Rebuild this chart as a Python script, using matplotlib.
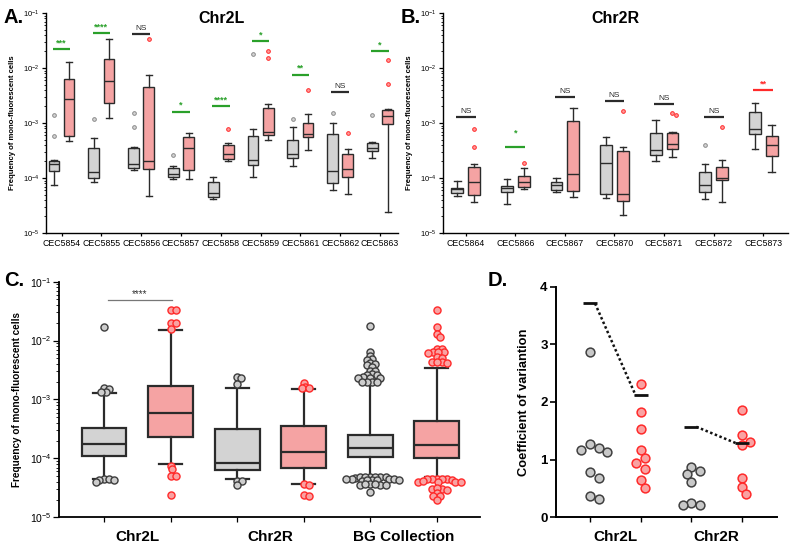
import matplotlib
matplotlib.use("Agg")
import matplotlib.pyplot as plt
import numpy as np

plt.rcParams['font.family'] = ['Liberation Sans', 'DejaVu Sans']
plt.rcParams['mathtext.fontset'] = 'custom'
plt.rcParams['mathtext.rm'] = 'Liberation Sans'
plt.rcParams['mathtext.default'] = 'regular'

GRAY = '#d3d3d3'
PINK = '#f5a3a3'
EDGE = '#2b2b2b'
GREEN = '#2aa02a'
RED = '#ff2a2a'

# ---------------- Panel A data (Chr2L strains) ----------------
cats_a = ['CEC5854', 'CEC5855', 'CEC5856', 'CEC5857', 'CEC5858',
          'CEC5859', 'CEC5861', 'CEC5862', 'CEC5863']
a_gray_lo = [7.6e-5, 8.3e-5, 1.4e-4, 9.7e-5, 4.1e-5, 1.05e-4, 1.65e-4, 6.0e-5, 2.3e-4]
a_gray_q1 = [1.32e-4, 1.0e-4, 1.5e-4, 1.03e-4, 4.5e-5, 1.75e-4, 2.3e-4, 8.1e-5, 3.1e-4]
a_gray_med = [1.8e-4, 1.29e-4, 1.8e-4, 1.2e-4, 5.3e-5, 2.1e-4, 2.7e-4, 1.33e-4, 3.5e-4]
a_gray_q3 = [2.0e-4, 3.5e-4, 3.5e-4, 1.55e-4, 8.3e-5, 5.9e-4, 4.9e-4, 6.2e-4, 4.4e-4]
a_gray_hi = [2.1e-4, 5.4e-4, 3.6e-4, 1.65e-4, 1.05e-4, 7.7e-4, 8.5e-4, 1.0e-3, 4.6e-4]
a_gray_fl = [[1.38e-3, 5.7e-4], [1.2e-3], [1.55e-3, 8.6e-4], [2.6e-4], [],
             [1.76e-2], [1.2e-3], [1.55e-3], [1.38e-3]]
a_pink_lo = [4.7e-4, 1.25e-3, 4.7e-5, 9.4e-5, 2.0e-4, 5.0e-4, 3.2e-4, 5.1e-5, 2.45e-5]
a_pink_q1 = [5.7e-4, 2.3e-3, 1.43e-4, 1.4e-4, 2.2e-4, 6.0e-4, 5.6e-4, 1.05e-4, 9.7e-4]
a_pink_med = [2.7e-3, 5.9e-3, 2.0e-4, 3.5e-4, 2.7e-4, 6.8e-4, 6.4e-4, 1.43e-4, 1.35e-3]
a_pink_q3 = [6.4e-3, 1.45e-2, 4.6e-3, 5.6e-4, 4.0e-4, 1.85e-3, 1.0e-3, 2.7e-4, 1.75e-3]
a_pink_hi = [1.3e-2, 3.3e-2, 7.6e-3, 6.5e-4, 4.3e-4, 2.2e-3, 1.45e-3, 3.4e-4, 1.8e-3]
a_pink_fl = [[], [], [3.3e-2], [], [7.9e-4], [2.0e-2, 1.5e-2], [4.0e-3], [6.6e-4],
             [1.4e-2, 5.1e-3]]
a_sig = ['***', '****', 'NS', '*', '****', '*', '**', 'NS', '*']
a_sig_y = [2.2e-2, 4.3e-2, 4.2e-2, 1.6e-3, 2.0e-3, 3.1e-2, 7.6e-3, 3.7e-3, 2.0e-2]
a_sig_col = [GREEN, GREEN, EDGE, GREEN, GREEN, GREEN, GREEN, EDGE, GREEN]

# ---------------- Panel B data (Chr2R strains) ----------------
cats_b = ['CEC5864', 'CEC5866', 'CEC5867', 'CEC5870', 'CEC5871', 'CEC5872', 'CEC5873']
b_gray_lo = [4.8e-5, 3.4e-5, 5.5e-5, 4.4e-5, 2.0e-4, 4.2e-5, 3.3e-4]
b_gray_q1 = [5.4e-5, 5.5e-5, 6.1e-5, 5.1e-5, 2.6e-4, 5.5e-5, 6.4e-4]
b_gray_med = [6.3e-5, 6.6e-5, 7.4e-5, 1.9e-4, 3.2e-4, 7.4e-5, 7.9e-4]
b_gray_q3 = [6.6e-5, 7.2e-5, 8.4e-5, 4.0e-4, 6.6e-4, 1.3e-4, 1.6e-3]
b_gray_hi = [8.7e-5, 9.5e-5, 1.0e-4, 5.6e-4, 1.12e-3, 1.8e-4, 2.35e-3]
b_gray_fl = [[], [], [], [], [], [4.0e-4], []]
b_pink_lo = [3.6e-5, 6.2e-5, 4.6e-5, 2.1e-5, 2.4e-4, 3.6e-5, 1.3e-4]
b_pink_q1 = [4.9e-5, 7.0e-5, 5.9e-5, 3.8e-5, 3.4e-4, 9.1e-5, 2.5e-4]
b_pink_med = [8.4e-5, 8.6e-5, 1.2e-4, 5.1e-5, 4.2e-4, 1.0e-4, 3.9e-4]
b_pink_q3 = [1.6e-4, 1.1e-4, 1.08e-3, 3.1e-4, 6.6e-4, 1.6e-4, 5.7e-4]
b_pink_hi = [1.8e-4, 1.55e-4, 1.9e-3, 3.6e-4, 7.0e-4, 2.1e-4, 9.1e-4]
b_pink_fl = [[7.9e-4, 3.6e-4], [1.9e-4], [], [1.65e-3], [1.38e-3, 1.5e-3], [8.6e-4], []]
b_sig = ['NS', '*', 'NS', 'NS', 'NS', 'NS', '**']
b_sig_y = [1.27e-3, 3.7e-4, 3.0e-3, 2.5e-3, 2.2e-3, 1.27e-3, 4.0e-3]
b_sig_col = [EDGE, GREEN, EDGE, EDGE, EDGE, EDGE, RED]

# ---------------- Panel C data (pooled) ----------------
c_groups = ['Chr2L', 'Chr2R', 'BG Collection']
c_lo = [4.4e-5, 8.0e-5, 4.5e-5, 3.7e-5, 5.0e-5, 4.8e-5]
c_q1 = [1.1e-4, 2.3e-4, 6.3e-5, 7.0e-5, 1.06e-4, 1.03e-4]
c_med = [1.76e-4, 6.0e-4, 8.5e-5, 1.27e-4, 1.48e-4, 1.69e-4]
c_q3 = [3.3e-4, 1.7e-3, 3.2e-4, 3.55e-4, 2.5e-4, 4.3e-4]
c_hi = [1.27e-3, 1.5e-2, 1.55e-3, 1.5e-3, 2.05e-3, 3.45e-3]
c_fliers = [
    [1.7e-2, 1.55e-3, 1.5e-3, 1.35e-3, 1.35e-3, 4.4e-5, 4.4e-5, 4.3e-5, 4.3e-5, 4.0e-5],
    [3.3e-2, 3.3e-2, 2.0e-2, 2.0e-2, 1.55e-2, 7.5e-5, 6.5e-5, 5.0e-5, 5.0e-5, 2.4e-5],
    [2.45e-3, 2.3e-3, 1.8e-3, 4.2e-5, 4.2e-5, 3.6e-5],
    [1.9e-3, 1.65e-3, 1.55e-3, 1.55e-3, 3.7e-5, 3.6e-5, 2.4e-5, 2.3e-5],
    [1.8e-2, 6.5e-3, 5.5e-3, 4.8e-3, 4.6e-3, 4.2e-3, 4.0e-3, 3.8e-3, 3.6e-3, 3.1e-3,
     3.0e-3, 2.7e-3, 2.6e-3, 2.6e-3, 2.4e-3, 2.3e-3, 2.3e-3, 2.3e-3, 2.0e-3, 2.0e-3,
     2.0e-3, 2.0e-3,
     4.9e-5, 4.8e-5, 4.9e-5, 4.7e-5, 4.8e-5, 4.9e-5, 4.8e-5,
     4.4e-5, 4.3e-5, 4.4e-5, 4.3e-5, 4.4e-5, 4.2e-5, 4.3e-5, 4.4e-5, 4.3e-5,
     3.7e-5, 3.6e-5, 3.7e-5, 3.6e-5, 3.7e-5, 3.6e-5, 2.7e-5],
    [3.3e-2, 1.7e-2, 1.3e-2, 1.15e-2, 7.3e-3, 7.2e-3, 6.3e-3, 6.3e-3, 6.2e-3, 6.4e-3,
     5.2e-3, 5.1e-3, 4.3e-3, 4.3e-3, 4.2e-3, 4.4e-3,
     4.5e-5, 4.4e-5, 4.4e-5, 4.5e-5, 4.3e-5, 4.4e-5, 4.0e-5, 4.0e-5, 4.1e-5, 4.0e-5,
     3.9e-5, 3.0e-5, 3.0e-5, 3.1e-5, 2.9e-5, 2.6e-5, 2.3e-5, 2.3e-5, 2.0e-5],
]
c_sig_y = 4.8e-2

# ---------------- Panel D data (coefficient of variation) ----------------
d_gray_l = [2.86, 1.27, 1.21, 1.17, 1.14, 0.78, 0.68, 0.37, 0.32]
d_pink_l = [2.32, 1.83, 1.53, 1.16, 1.02, 0.94, 0.83, 0.64, 0.50]
d_gray_r = [0.88, 0.80, 0.75, 0.62, 0.24, 0.21, 0.21]
d_pink_r = [1.86, 1.43, 1.31, 1.25, 0.69, 0.53, 0.40]
d_pooled = [3.71, 2.12, 1.57, 1.28]


def swarm_x(ax, x0, vals, diam, sep=0.95, step=0.5):
    # spread points sideways so they don't overlap (in pixel units)
    vals = np.asarray(vals, float)
    if len(vals) == 0:
        return vals
    disp = ax.transData.transform(np.column_stack([np.full(len(vals), x0), vals]))
    cx = disp[0, 0]
    cands = [0.0]
    for j in range(1, 80):
        cands += [j * step * diam, -j * step * diam]
    placed = []
    out = np.zeros(len(vals))
    for i in np.argsort(-vals):
        y = disp[i, 1]
        for off in cands:
            if all((cx + off - px) ** 2 + (y - py) ** 2 >= (sep * diam) ** 2 for px, py in placed):
                break
        placed.append((cx + off, y))
        out[i] = cx + off
    back = ax.transData.inverted().transform(np.column_stack([out, disp[:, 1]]))
    return back[:, 0]


def draw_boxes(ax, pos, lo, q1, med, q3, hi, color, width, lw, capw):
    stats = [dict(whislo=a, q1=b, med=c, q3=d, whishi=e, fliers=[])
             for a, b, c, d, e in zip(lo, q1, med, q3, hi)]
    ax.bxp(stats, positions=pos, widths=width, patch_artist=True, showfliers=False,
           manage_ticks=False, capwidths=capw,
           boxprops=dict(facecolor=color, edgecolor=EDGE, linewidth=lw),
           whiskerprops=dict(color=EDGE, linewidth=lw),
           capprops=dict(color=EDGE, linewidth=lw),
           medianprops=dict(color=EDGE, linewidth=lw))


def draw_fliers(ax, pos, fl, face, edge, size, diam, lw, sep=0.95, step=0.5):
    for p, vals in zip(pos, fl):
        if len(vals) == 0:
            continue
        xs = swarm_x(ax, p, vals, diam, sep, step)
        ax.scatter(xs, vals, s=size, facecolor=face, edgecolor=edge, linewidths=lw, zorder=4)


def log_axis(ax, lab_size, maj_len, min_len):
    ax.set_yscale('log')
    ax.set_ylim(1e-5, 1e-1)
    ax.set_yticks([1e-5, 1e-4, 1e-3, 1e-2, 1e-1])
    ax.set_yticklabels(['$10^{-5}$', '$10^{-4}$', '$10^{-3}$', '$10^{-2}$', '$10^{-1}$'])
    ax.tick_params(axis='y', which='major', labelsize=lab_size, length=maj_len, width=0.9, pad=1.5)
    ax.tick_params(axis='y', which='minor', length=min_len, width=0.6)
    for s in ['top', 'right']:
        ax.spines[s].set_visible(False)


fig = plt.figure(figsize=(7.94, 5.44), dpi=100)

# ---------------- A ----------------
axA = fig.add_axes([0.0579, 0.5717, 0.4433, 0.4044])
log_axis(axA, 5.5, 3, 1.6)
axA.set_xlim(-0.39, 8.45)
xa = np.arange(len(cats_a))
draw_boxes(axA, xa - 0.19, a_gray_lo, a_gray_q1, a_gray_med, a_gray_q3, a_gray_hi, GRAY, 0.27, 1.0, 0.15)
draw_boxes(axA, xa + 0.19, a_pink_lo, a_pink_q1, a_pink_med, a_pink_q3, a_pink_hi, PINK, 0.27, 1.0, 0.15)
draw_fliers(axA, xa - 0.19, a_gray_fl, '#d4d4d4', '#8a8a8a', 7, 3.6, 0.7)
draw_fliers(axA, xa + 0.19, a_pink_fl, '#ff9a9a', RED, 7, 3.6, 0.7)
for i, (t, y, c) in enumerate(zip(a_sig, a_sig_y, a_sig_col)):
    axA.plot([i - 0.22, i + 0.22], [y, y], color=c, lw=1.6, solid_capstyle='butt')
    axA.text(i, y * 1.08, t, color=c, ha='center', va='bottom', fontsize=6 if t == 'NS' else 6.5,
             fontweight='bold' if t != 'NS' else 'normal')
axA.set_xticks(xa)
axA.set_xticklabels(cats_a, fontsize=6.3)
axA.tick_params(axis='x', length=2.5, width=0.9, pad=2)
axA.set_ylabel('Frequency of mono-fluorescent cells', fontsize=5.6, fontweight='bold')
axA.yaxis.set_label_coords(-0.085, 0.5)
axA.text(0.5, 0.975, 'Chr2L', transform=axA.transAxes, ha='center', va='center',
         fontsize=11.5, fontweight='bold')
for s in ['left', 'bottom']:
    axA.spines[s].set_linewidth(1.0)

# ---------------- B ----------------
axB = fig.add_axes([0.5579, 0.5717, 0.4345, 0.4044])
log_axis(axB, 5.5, 3, 1.6)
axB.set_xlim(-0.46, 6.5)
xb = np.arange(len(cats_b))
draw_boxes(axB, xb - 0.17, b_gray_lo, b_gray_q1, b_gray_med, b_gray_q3, b_gray_hi, GRAY, 0.24, 1.0, 0.13)
draw_boxes(axB, xb + 0.17, b_pink_lo, b_pink_q1, b_pink_med, b_pink_q3, b_pink_hi, PINK, 0.24, 1.0, 0.13)
draw_fliers(axB, xb - 0.17, b_gray_fl, '#d4d4d4', '#8a8a8a', 7, 3.6, 0.7)
draw_fliers(axB, xb + 0.17, b_pink_fl, '#ff9a9a', RED, 7, 3.6, 0.7)
for i, (t, y, c) in enumerate(zip(b_sig, b_sig_y, b_sig_col)):
    axB.plot([i - 0.2, i + 0.2], [y, y], color=c, lw=1.6, solid_capstyle='butt')
    yt = y * (1.5 if c == GREEN else 1.08)
    axB.text(i, yt, t, color=c, ha='center', va='bottom', fontsize=6 if t == 'NS' else 6.5,
             fontweight='bold' if t != 'NS' else 'normal')
axB.set_xticks(xb)
axB.set_xticklabels(cats_b, fontsize=6.3)
axB.tick_params(axis='x', length=2.5, width=0.9, pad=2)
axB.set_ylabel('Frequency of mono-fluorescent cells', fontsize=5.6, fontweight='bold')
axB.yaxis.set_label_coords(-0.087, 0.5)
axB.text(0.5, 0.975, 'Chr2R', transform=axB.transAxes, ha='center', va='center',
         fontsize=11.5, fontweight='bold')
for s in ['left', 'bottom']:
    axB.spines[s].set_linewidth(1.0)

# ---------------- C ----------------
axC = fig.add_axes([0.0743, 0.0491, 0.5302, 0.4331])
log_axis(axC, 7.5, 4, 2)
axC.set_xlim(-0.68, 5.65)
xc = np.arange(6)
gray_idx = [0, 2, 4]
pink_idx = [1, 3, 5]
draw_boxes(axC, xc[gray_idx], [c_lo[i] for i in gray_idx], [c_q1[i] for i in gray_idx],
           [c_med[i] for i in gray_idx], [c_q3[i] for i in gray_idx], [c_hi[i] for i in gray_idx],
           GRAY, 0.67, 1.6, 0.35)
draw_boxes(axC, xc[pink_idx], [c_lo[i] for i in pink_idx], [c_q1[i] for i in pink_idx],
           [c_med[i] for i in pink_idx], [c_q3[i] for i in pink_idx], [c_hi[i] for i in pink_idx],
           PINK, 0.67, 1.6, 0.35)
draw_fliers(axC, xc[gray_idx], [c_fliers[i] for i in gray_idx], '#cdcdcd', '#3c3c3c', 26, 6.8, 1.0, 0.55, 0.25)
draw_fliers(axC, xc[pink_idx], [c_fliers[i] for i in pink_idx], '#f9a2a2', RED, 26, 6.8, 1.0, 0.55, 0.25)
axC.plot([0.05, 1.02], [c_sig_y, c_sig_y], color='#777777', lw=0.9)
axC.text(0.53, c_sig_y * 1.07, '****', ha='center', va='bottom', fontsize=7, color='#333333')
axC.set_xticks([0.5, 2.5, 4.5])
axC.set_xticklabels(c_groups, fontsize=11, fontweight='bold')
axC.set_xticks(xc, minor=True)
axC.tick_params(axis='x', which='major', length=0, pad=9)
axC.tick_params(axis='x', which='minor', length=3.5, width=0.9)
axC.set_ylabel('Frequency of mono-fluorescent cells', fontsize=7.2, fontweight='bold')
axC.yaxis.set_label_coords(-0.089, 0.5)
for s in ['left', 'bottom']:
    axC.spines[s].set_linewidth(1.3)

# ---------------- D ----------------
axD = fig.add_axes([0.7003, 0.0491, 0.278, 0.4239])
axD.set_xlim(-0.67, 3.69)
axD.set_ylim(0, 4)
d_sets = [d_gray_l, d_pink_l, d_gray_r, d_pink_r]
d_face = ['#c8c8c8', '#f9a2a2', '#c8c8c8', '#f9a2a2']
d_edge = ['#404040', RED, '#404040', RED]
for p, vals, fc, ec in zip(range(4), d_sets, d_face, d_edge):
    xs = swarm_x(axD, p, vals, 8.6, 0.95)
    axD.scatter(xs, vals, s=40, facecolor=fc, edgecolor=ec, linewidths=1.1, zorder=4)
d_pos = np.arange(4)
axD.scatter(d_pos, d_pooled, marker='_', s=90, linewidths=2.0, color='#111111', zorder=5)
for a, b in [(0, 1), (2, 3)]:
    axD.plot([d_pos[a] + 0.1, d_pos[b] - 0.1], [d_pooled[a], d_pooled[b]],
             ls=(0, (1, 1)), lw=1.8, color='#111111')
axD.set_yticks([0, 1, 2, 3, 4])
axD.set_yticklabels(['0', '1', '2', '3', '4'], fontsize=9.5, fontweight='bold')
axD.tick_params(axis='y', length=4, width=1.2, pad=2)
axD.set_xticks([0.5, 2.5])
axD.set_xticklabels(['Chr2L', 'Chr2R'], fontsize=11, fontweight='bold')
axD.set_xticks(d_pos, minor=True)
axD.tick_params(axis='x', which='major', length=0, pad=9)
axD.tick_params(axis='x', which='minor', length=3.5, width=1.0)
axD.set_ylabel('Coefficient of variantion', fontsize=9.3, fontweight='bold')
axD.yaxis.set_label_coords(-0.118, 0.5)
for s in ['top', 'right']:
    axD.spines[s].set_visible(False)
for s in ['left', 'bottom']:
    axD.spines[s].set_linewidth(1.4)

# panel letters
fig.text(0.005, 0.968, 'A.', fontsize=14.5, fontweight='bold', va='center')
fig.text(0.505, 0.968, 'B.', fontsize=14.5, fontweight='bold', va='center')
fig.text(0.005, 0.484, 'C.', fontsize=14.5, fontweight='bold', va='center')
fig.text(0.614, 0.484, 'D.', fontsize=14.5, fontweight='bold', va='center')

fig.savefig('out.png', dpi=100)
